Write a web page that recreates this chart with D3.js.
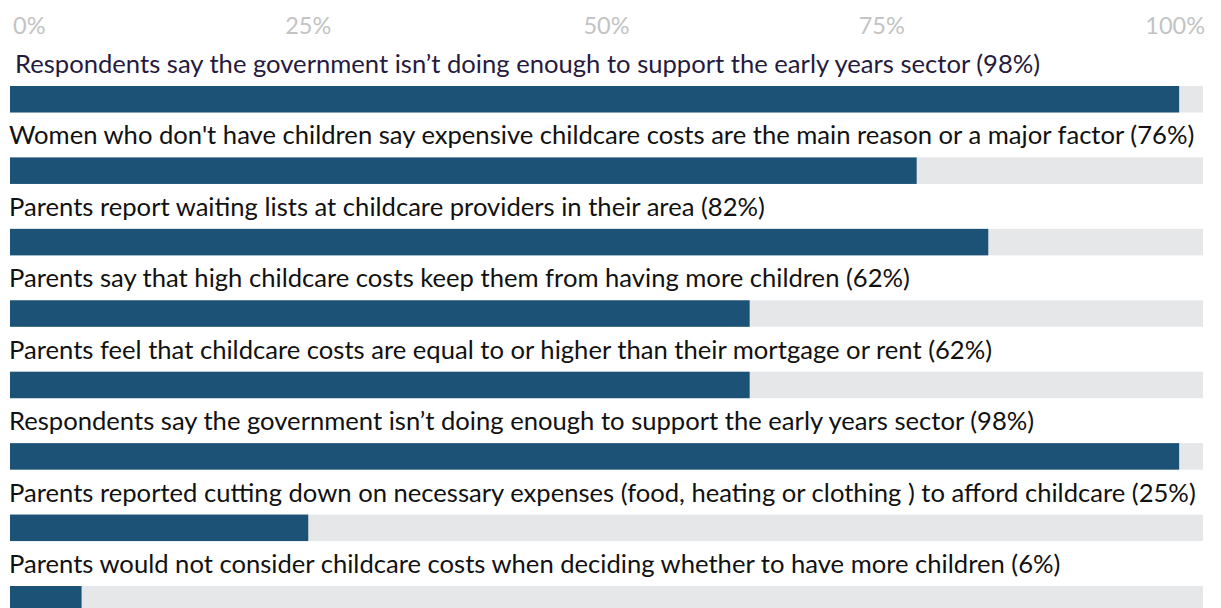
<!DOCTYPE html>
<html>
<head>
<meta charset="utf-8">
<script src="https://cdn.jsdelivr.net/npm/d3@7"></script>
<style>
  html, body { margin: 0; padding: 0; background: #ffffff; }
  svg { display: block; }
</style>
</head>
<body>
<svg id="chart" width="1221" height="608"></svg>
<script>
// Survey statements, shown in order from top to bottom
const statements = [
  "Respondents say the government isn\u2019t doing enough to support the early years sector",
  "Women who don't have children say expensive childcare costs are the main reason or a major factor",
  "Parents report waiting lists at childcare providers in their area",
  "Parents say that high childcare costs keep them from having more children",
  "Parents feel that childcare costs are equal to or higher than their mortgage or rent",
  "Respondents say the government isn\u2019t doing enough to support the early years sector",
  "Parents reported cutting down on necessary expenses (food, heating or clothing ) to afford childcare",
  "Parents would not consider childcare costs when deciding whether to have more children"
];
// Share of respondents agreeing (%)
const shares = [98, 76, 82, 62, 62, 98, 25, 6];
// Axis tick values and their labels
const tickValues = [0, 25, 50, 75, 100];
const tickLabels = ["0%", "25%", "50%", "75%", "100%"];

const svg = d3.select("#chart");
const FONT = "Lato, 'Open Sans', sans-serif";

const x = d3.scaleLinear().domain([0, 100]).range([10, 1203]);
const y = d3.scaleBand()
  .domain(d3.range(statements.length))
  .range([86, 86 + 71.43 * statements.length])
  .paddingInner(0)
  .paddingOuter(0);
const barH = 26.5;

// Top axis: light grey percentage labels, no line
const anchors = ["start", "middle", "middle", "end", "end"];
svg.append("g").attr("class", "axis")
  .selectAll("text")
  .data(tickValues)
  .join("text")
  .attr("x", d => x(d) + (d === 0 ? 3 : d === 100 ? 2 : 0))
  .attr("y", 34)
  .attr("text-anchor", (d, i) => anchors[i])
  .attr("font-family", FONT)
  .attr("font-size", 23.5)
  .attr("fill", "#c3c3c3")
  .text((d, i) => tickLabels[i]);

const rows = svg.append("g").attr("class", "rows")
  .selectAll("g")
  .data(statements.map((s, i) => ({ s, v: shares[i], i })))
  .join("g");

// Full-width background track
rows.append("rect")
  .attr("x", x(0))
  .attr("y", d => y(d.i))
  .attr("width", x(100) - x(0))
  .attr("height", barH)
  .attr("fill", "#e6e7e9");

// Value bar
rows.append("rect")
  .attr("x", x(0))
  .attr("y", d => y(d.i))
  .attr("width", d => x(d.v) - x(0))
  .attr("height", barH)
  .attr("fill", "#1c5276");

// Statement label above each bar
const labels = rows.append("text")
  .attr("x", d => d.i === 0 ? 15 : 9)
  .attr("y", d => y(d.i) - 13)
  .attr("font-family", FONT)
  .attr("font-size", 24)
  .attr("fill", d => d.i === 0 ? "#261a3e" : "#111111")
  .text(d => `${d.s} (${d.v}%)`);

// Size the labels so the longest statement spans about the chart width
const widest = d3.max(labels.nodes(), n => n.getComputedTextLength());
const fs = 24 * (1196 - 9) / widest;
labels.attr("font-size", fs);
</script>
</body>
</html>
